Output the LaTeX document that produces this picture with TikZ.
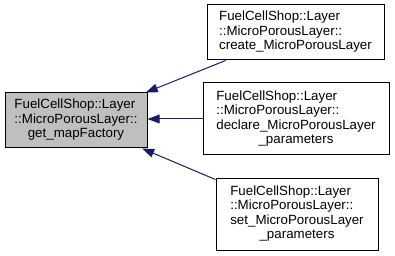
\documentclass[tikz,border=0pt]{standalone}
\usepackage{fontspec}
\setmainfont{Liberation Sans}
\usetikzlibrary{arrows.meta}

\definecolor{edgeblue}{HTML}{191970}
\definecolor{curgrey}{HTML}{BFBFBF}

\renewcommand{\arraystretch}{0.9}
\newcommand{\mplName}{FuelCellShop::Layer\\::MicroPorousLayer::}
\newcommand{\fnText}[1]{\begin{tabular}{@{}l@{}}\mplName\\\multicolumn{1}{@{}c@{}}{#1}\end{tabular}}
\newcommand{\fnTextP}[1]{\begin{tabular}{@{}l@{}}\mplName\\#1\\\multicolumn{1}{@{}c@{}}{\_parameters}\end{tabular}}

\tikzset{
  fnbox/.style={draw=black, line width=0.75pt, inner sep=0pt, font=\fontsize{10}{12}\selectfont},
  curbox/.style={fnbox, fill=curgrey},
  calledby/.style={draw=edgeblue, line width=0.75pt, -{Triangle[length=9pt,width=6.5pt]}}
}

\begin{document}
\begin{tikzpicture}[x=0.75pt, y=-0.75pt]
        \useasboundingbox (0,0) rectangle (395,256);

        \node[curbox, minimum width=106.5pt, minimum height=41.25pt] (mapf) at (76, 120.5) {\fnText{get\_mapFactory}};

        \node[fnbox, minimum width=132.75pt, minimum height=41.25pt] (crt) at (295.5, 32.5) {\fnText{create\_MicroPorousLayer}};
        \node[fnbox, minimum width=139.5pt, minimum height=54pt] (dcl) at (296, 119) {\fnTextP{declare\_MicroPorousLayer}};
        \node[fnbox, minimum width=121.5pt, minimum height=54pt] (setp) at (297, 214) {\fnTextP{set\_MicroPorousLayer}};

        \draw[calledby] (crt) -- (mapf);
        \draw[calledby] (dcl.west) -- (mapf.east |- dcl.west);
        \draw[calledby] (setp) -- (mapf);

    \end{tikzpicture}
\end{document}
